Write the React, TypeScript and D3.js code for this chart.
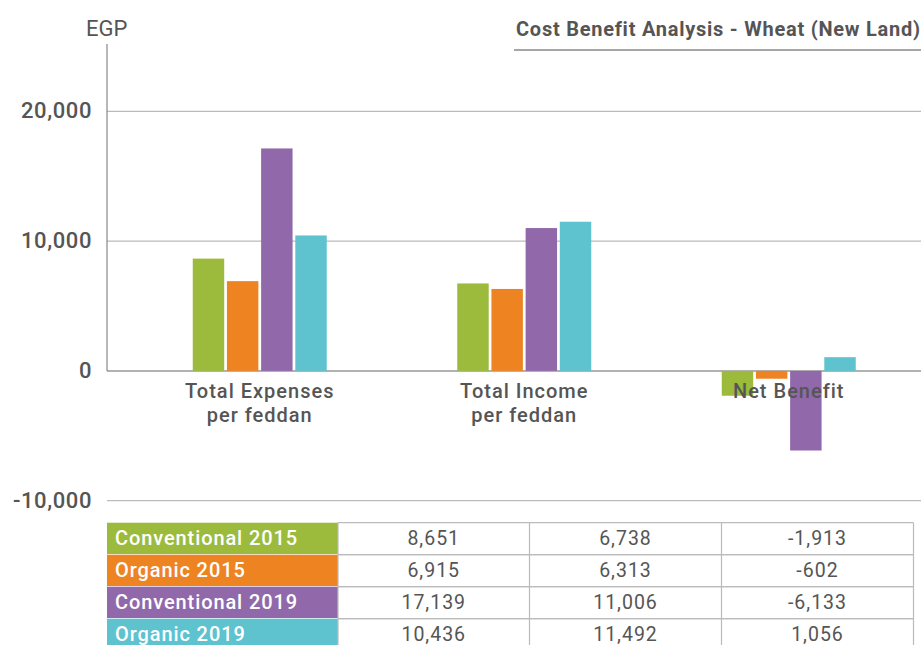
import React from 'react'
import * as d3 from 'd3'

const categories = ['Total Expenses|per feddan', 'Total Income|per feddan', 'Net Benefit']
const series = ['Conventional 2015', 'Organic 2015', 'Conventional 2019', 'Organic 2019']
const conventional2015 = [8651, 6738, -1913]
const organic2015 = [6915, 6313, -602]
const conventional2019 = [17139, 11006, -6133]
const organic2019 = [10436, 11492, 1056]
const yTicks = [-10000, 0, 10000, 20000]
const colors = ['#9cbb3d', '#ee8421', '#9169aa', '#5fc2cf']

const values = [conventional2015, organic2015, conventional2019, organic2019]

const W = 921
const H = 645
const textColor = '#555'
const font = 'Roboto, sans-serif'

export default function App() {
  const y = d3.scaleLinear().domain([-10000, 20000]).range([500.7, 111.3])
  const x0 = d3.scaleBand().domain(categories).range([127.5, 921])
  const bw = x0.bandwidth()
  const x1 = d3
    .scaleBand()
    .domain(series)
    .range([bw / 2 - 67, bw / 2 + 67])
    .paddingInner(0.08)
  // hyphen instead of unicode minus, like the original
  const fmt = (v: number) => d3.format(',')(v).replace('−', '-')

  // table geometry
  const tTop = 522.7
  const rowH = 32
  const colX = [107, 338, 529.5, 721.5, 913.5]

  return (
    <svg
      width={W}
      height={H}
      style={{position: 'absolute', left: 0, top: 0, background: '#fff'}}
      fontFamily={font}
    >
      <rect width={W} height={H} fill="#fff" />
      {/* title */}
      <text x={516} y={36} fontSize={20} fontWeight={700} fill={textColor} letterSpacing={0.75}>
        Cost Benefit Analysis - Wheat (New Land)
      </text>
      <line x1={514} x2={W} y1={50} y2={50} stroke="#888" strokeWidth={1.5} />

      <text x={86} y={36} fontSize={22} fill={textColor}>
        EGP
      </text>

      {/* grid */}
      {yTicks.map((t) => (
        <g key={t}>
          <line
            x1={107}
            x2={W}
            y1={y(t)}
            y2={y(t)}
            stroke={t === 0 ? '#999' : '#bbb'}
            strokeWidth={t === 0 ? 1.5 : 1.2}
          />
          <text
            x={92}
            y={y(t) + 7}
            textAnchor="end"
            fontSize={22}
            fontWeight={500}
            fill={textColor}
            letterSpacing={0.6}
          >
            {fmt(t)}
          </text>
        </g>
      ))}
      <line x1={107} x2={107} y1={44} y2={y(0)} stroke="#888" strokeWidth={1.2} />

      {/* bars */}
      {categories.map((c, ci) => (
        <g key={c} transform={`translate(${x0(c)},0)`}>
          {series.map((s, si) => {
            const v = values[si][ci]
            return (
              <rect
                key={s}
                x={x1(s)}
                width={x1.bandwidth()}
                y={y(Math.max(0, v))}
                height={Math.abs(y(v) - y(0))}
                fill={colors[si]}
              />
            )
          })}
        </g>
      ))}

      {/* category labels */}
      {categories.map((c) => (
        <text
          key={c}
          x={(x0(c) as number) + bw / 2}
          y={397.5}
          textAnchor="middle"
          fontSize={20}
          fontWeight={500}
          fill={textColor}
          letterSpacing={1}
        >
          {c.split('|').map((line, i) => (
            <tspan key={i} x={(x0(c) as number) + bw / 2} dy={i === 0 ? 0 : 24.5}>
              {line}
            </tspan>
          ))}
        </text>
      ))}

      {/* data table */}
      {series.map((s, si) => {
        const top = tTop + si * rowH
        return (
          <g key={s}>
            <rect x={colX[0]} y={top} width={colX[1] - colX[0]} height={rowH} fill={colors[si]} />
            <text x={115} y={top + 22} fontSize={20} fontWeight={500} fill="#fff" letterSpacing={0.9}>
              {s}
            </text>
            {values[si].map((v, ci) => (
              <text
                key={ci}
                x={(colX[ci + 1] + colX[ci + 2]) / 2}
                y={top + 22}
                textAnchor="middle"
                fontSize={19.5}
                fill={textColor}
                letterSpacing={1}
              >
                {fmt(v)}
              </text>
            ))}
            <line x1={colX[1]} x2={colX[4]} y1={top} y2={top} stroke="#bbb" strokeWidth={1.2} />
            <line x1={colX[0]} x2={colX[4]} y1={top + rowH} y2={top + rowH} stroke="#fff" strokeWidth={1.5} />
            <line x1={colX[1]} x2={colX[4]} y1={top + rowH} y2={top + rowH} stroke="#bbb" strokeWidth={1.2} />
          </g>
        )
      })}
      {colX.slice(1).map((cx, i) => (
        <line key={i} x1={cx} x2={cx} y1={tTop} y2={H} stroke="#bbb" strokeWidth={1.2} />
      ))}
    </svg>
  )
}
